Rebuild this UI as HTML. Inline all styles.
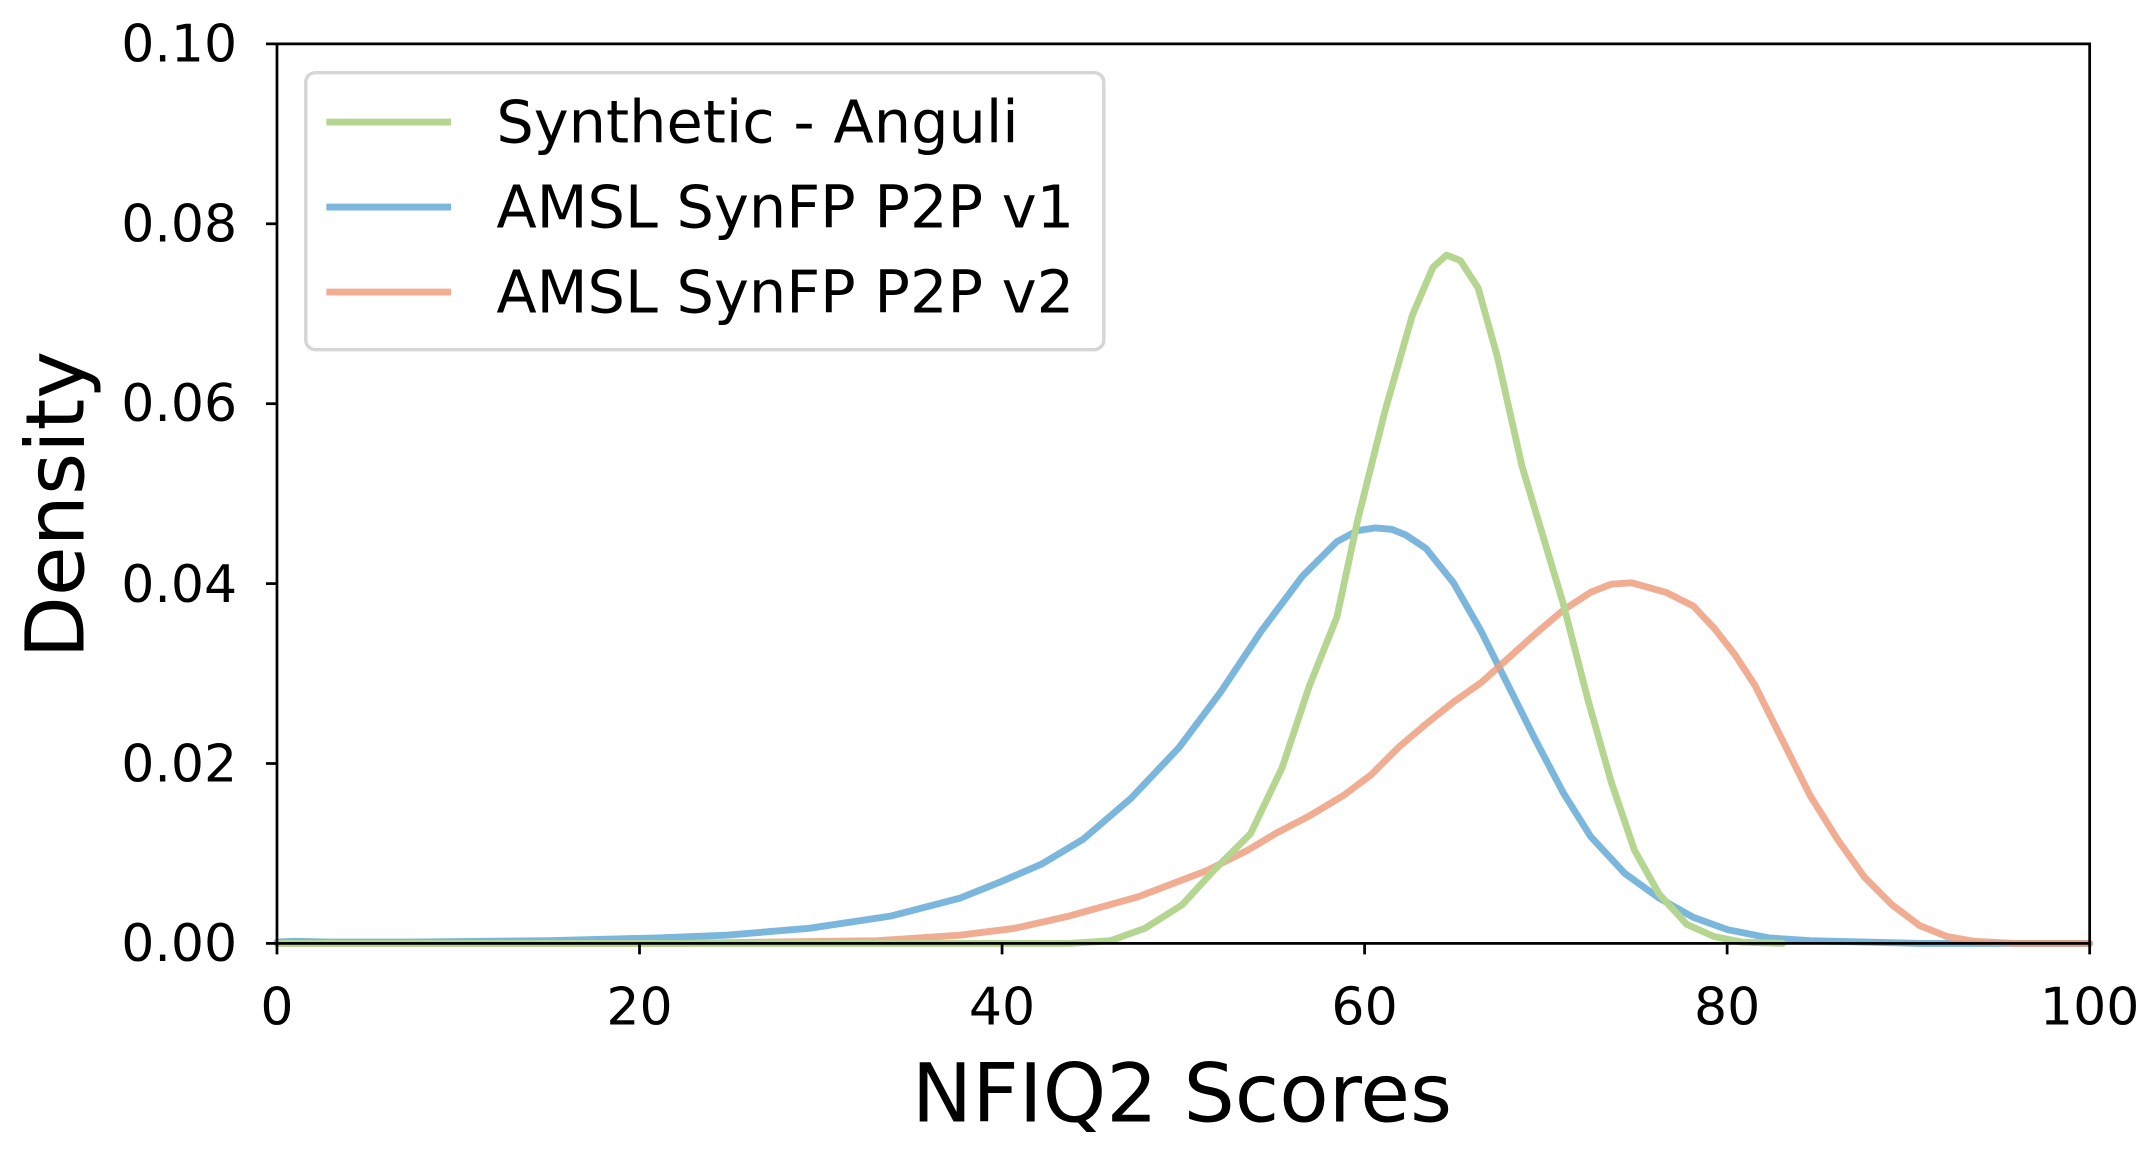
<!DOCTYPE html>
<html><head><style>html,body{margin:0;padding:0;background:#fff}svg{display:block}</style></head>
<body>
<svg width="2150" height="1151" viewBox="0 0 1568 839.4" preserveAspectRatio="none" xmlns="http://www.w3.org/2000/svg" font-family="DejaVu Sans, Liberation Sans, sans-serif">
<rect width="1568" height="840" fill="#fff"/>
<g fill="none" stroke-width="5" stroke-linejoin="round" stroke-linecap="round">
<polyline stroke="#7bb6dd" points="202,687 215,686.5 240,687 300,687 400,686 480,684 530,682 590,677 650,668 700,655 730,643 760,630 790,612 825,582 860,545 890,505 920,460 950,420 975,395 990,387 1003,385 1015,386 1025,390 1040,400 1060,425 1080,460 1100,500 1120,540 1140,578 1160,610 1185,637 1210,655 1235,669 1260,678 1290,684 1320,686 1400,688 1524,688"/>
<polyline stroke="#ef9f7f" stroke-opacity="0.85" points="202,688 500,688 560,687 640,686 700,682 740,677 780,668 830,654 880,635 910,620 930,608 955,595 980,580 1000,565 1020,545 1040,528 1060,512 1080,498 1100,480 1120,462 1140,445 1160,432 1175,426 1190,425 1215,432 1235,442 1250,458 1265,477 1280,500 1300,540 1320,580 1340,612 1360,640 1380,660 1400,675 1420,683 1440,686.5 1470,688 1524,688"/>
<polyline stroke="#b5d690" points="202,688 780,688 810,686 835,677 862,660 885,635 912,608 935,560 955,500 975,450 990,380 1010,300 1030,230 1045,195 1055,186 1065,190 1078,210 1092,260 1110,340 1125,390 1140,440 1158,510 1175,570 1192,620 1210,652 1230,674 1250,683 1270,687 1300,688"/>
</g>
<rect x="202" y="32" width="1322" height="656" fill="none" stroke="#000" stroke-width="2"/>
<g stroke="#000" stroke-width="2">
<line x1="194" y1="32" x2="202" y2="32"/><line x1="194" y1="163.2" x2="202" y2="163.2"/><line x1="194" y1="294.4" x2="202" y2="294.4"/><line x1="194" y1="425.6" x2="202" y2="425.6"/><line x1="194" y1="556.8" x2="202" y2="556.8"/><line x1="194" y1="688" x2="202" y2="688"/>
<line x1="202" y1="688" x2="202" y2="696"/><line x1="466.4" y1="688" x2="466.4" y2="696"/><line x1="730.8" y1="688" x2="730.8" y2="696"/><line x1="995.2" y1="688" x2="995.2" y2="696"/><line x1="1259.6" y1="688" x2="1259.6" y2="696"/><line x1="1524" y1="688" x2="1524" y2="696"/>
</g>
<g font-size="38" text-anchor="end" fill="#000">
<text x="173" y="45">0.10</text><text x="173" y="176">0.08</text><text x="173" y="307">0.06</text><text x="173" y="439">0.04</text><text x="173" y="570">0.02</text><text x="173" y="701">0.00</text>
</g>
<g font-size="38" text-anchor="middle" fill="#000">
<text x="202" y="747">0</text><text x="466.4" y="747">20</text><text x="730.8" y="747">40</text><text x="995.2" y="747">60</text><text x="1259.6" y="747">80</text><text x="1524" y="747">100</text>
</g>
<text x="862" y="818" font-size="59" text-anchor="middle">NFIQ2 Scores</text>
<text transform="translate(61,368) rotate(-90)" font-size="59" text-anchor="middle">Density</text>
<rect x="223" y="53" width="582" height="202" rx="7" fill="#fff" fill-opacity="0.8" stroke="#d6d6d6" stroke-width="2.5"/>
<g stroke-width="5">
<line x1="238" y1="89" x2="329" y2="89" stroke="#b5d690"/>
<line x1="238" y1="151" x2="329" y2="151" stroke="#7bb6dd"/>
<line x1="238" y1="213" x2="329" y2="213" stroke="#ef9f7f" stroke-opacity="0.85"/>
</g>
<g font-size="43" fill="#000">
<text x="362" y="104">Synthetic - Anguli</text>
<text x="362" y="166">AMSL SynFP P2P v1</text>
<text x="362" y="228">AMSL SynFP P2P v2</text>
</g>
</svg>
</body></html>
